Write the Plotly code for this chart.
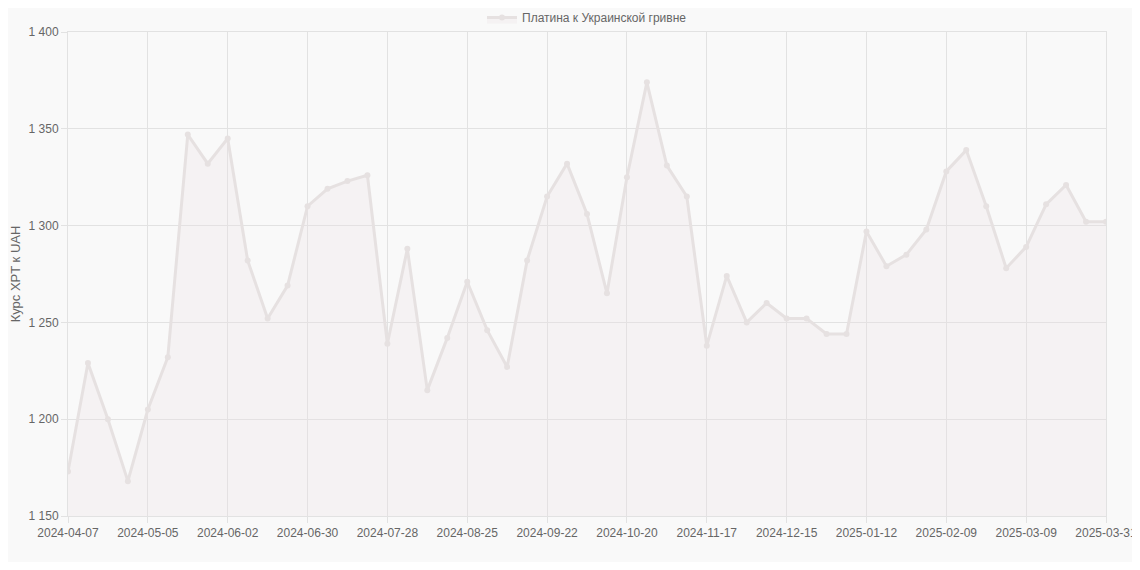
import datetime as dt
import plotly.graph_objects as go

start = dt.date(2024, 4, 7)
dates = [(start + dt.timedelta(weeks=i)).isoformat() for i in range(52)] + ["2025-03-31"]
values = [1173, 1229, 1200, 1168, 1205, 1232, 1347, 1332, 1345, 1282, 1252, 1269,
          1310, 1319, 1323, 1326, 1239, 1288, 1215, 1242, 1271, 1246, 1227, 1282,
          1315, 1332, 1306, 1265, 1325, 1374, 1331, 1315, 1238, 1274, 1250, 1260,
          1252, 1252, 1244, 1244, 1297, 1279, 1285, 1298, 1328, 1339, 1310, 1278,
          1289, 1311, 1321, 1302, 1302]
tick_labels = [dates[i] for i in range(0, 52, 4)] + [dates[-1]]

fig = go.Figure(go.Scatter(
    x=dates, y=values, mode="lines+markers", name="Платина к Украинской гривне",
    line=dict(color="#e6e1e1", width=3), marker=dict(color="#e6e1e1", size=6),
    fill="tozeroy", fillcolor="rgba(235,225,228,0.25)"))

fig.update_layout(
    width=1124, height=554, paper_bgcolor="#f9f9f9", plot_bgcolor="#f9f9f9",
    margin=dict(l=60, r=26, t=24, b=46, autoexpand=False),
    font=dict(family="Liberation Sans, Arial", size=12, color="#666"),
    separators=". ",
    showlegend=True,
    legend=dict(orientation="h", x=0.5, xanchor="center", y=1.0, yanchor="bottom",
                bgcolor="rgba(0,0,0,0)", font=dict(size=12, color="#666")),
    xaxis=dict(type="category", range=[0, 52], tickmode="array", tickvals=tick_labels,
               ticktext=tick_labels, showgrid=True, gridcolor="#e2e2e2", automargin=False,
               showline=True, linecolor="#e2e2e2", mirror=True, ticks="outside",
               ticklen=6, tickcolor="#e2e2e2"),
    yaxis=dict(range=[1150, 1400], dtick=50, tickformat=",", showgrid=True, automargin=False,
               gridcolor="#e2e2e2", showline=True, linecolor="#e2e2e2", mirror=True,
               ticks="outside", ticklen=6, tickcolor="#e2e2e2", zeroline=False,
               title=dict(text="Курс XPT к UAH", standoff=8, font=dict(size=13, color="#666"))),
)
fig.write_html("out.html")
